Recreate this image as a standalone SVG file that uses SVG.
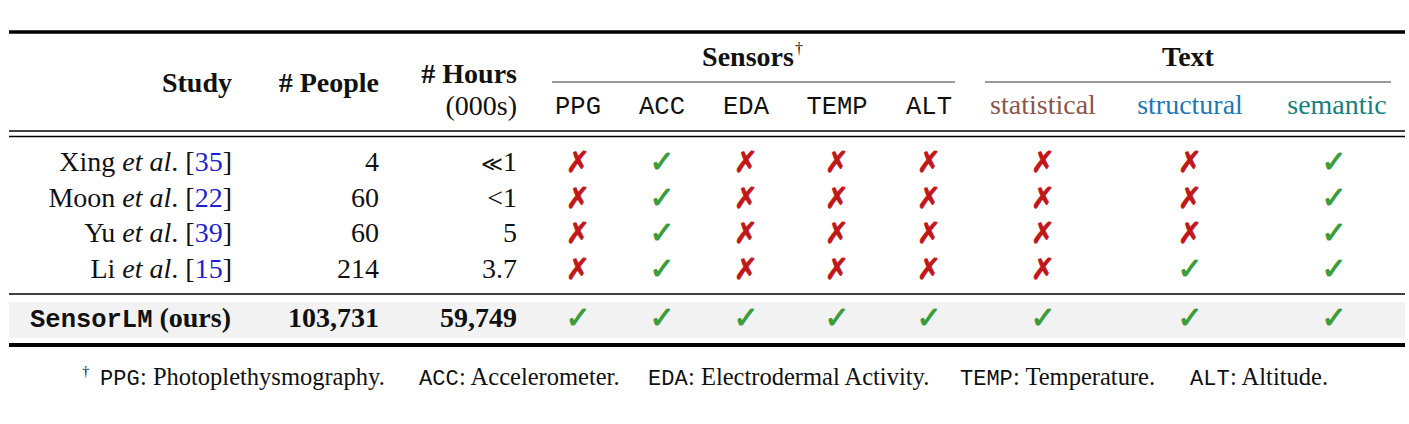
<svg xmlns="http://www.w3.org/2000/svg" width="1409" height="424" viewBox="0 0 1409 424">
<style>
.s{font-family:"Liberation Serif","DejaVu Serif",serif;font-size:28px;fill:#111}
.b{font-weight:bold}
.m{font-family:"Liberation Mono","DejaVu Sans Mono",monospace;font-size:25.5px;fill:#111}
.i{font-style:italic}
.c{fill:#1f1fd0}
.e{text-anchor:end}
.mid{text-anchor:middle}
.ll{font-family:"DejaVu Serif",serif;font-size:21px;font-weight:normal}
.ok{font-family:"DejaVu Sans",sans-serif;font-size:30px;fill:#3a9d3a;stroke:#3a9d3a;stroke-width:1;text-anchor:middle}
.no{font-family:"DejaVu Sans",sans-serif;font-size:29px;fill:#c01818;stroke:#c01818;stroke-width:0.8;text-anchor:middle}
.f{font-family:"Liberation Serif","DejaVu Serif",serif;font-size:24.5px;fill:#111}
.fm{font-family:"Liberation Mono","DejaVu Sans Mono",monospace;font-size:22px;fill:#111}
</style>
<rect width="1409" height="424" fill="#fff"/>
<g id="rules">
<rect x="9" y="302" width="1396" height="36" fill="#f2f2f2"/>
<line x1="9" y1="32" x2="1405" y2="32" stroke="#000" stroke-width="3.5"/>
<line x1="552" y1="82" x2="955" y2="82" stroke="#777" stroke-width="1.3"/>
<line x1="985" y1="82" x2="1391" y2="82" stroke="#777" stroke-width="1.3"/>
<line x1="9" y1="131" x2="1405" y2="131" stroke="#000" stroke-width="1.3"/>
<line x1="9" y1="136.5" x2="1405" y2="136.5" stroke="#000" stroke-width="1.3"/>
<line x1="9" y1="294" x2="1405" y2="294" stroke="#000" stroke-width="1.5"/>
<line x1="9" y1="345" x2="1405" y2="345" stroke="#000" stroke-width="4"/>
</g>
<g id="header">
<text class="s b e" x="232" y="92">Study</text>
<text class="s b e" x="379" y="92"># People</text>
<text class="s b e" x="517" y="83"># Hours</text>
<text class="s e" x="517" y="115">(000s)</text>
<text class="s b mid" x="748" y="66">Sensors</text>
<text class="s" x="795" y="54" style="font-size:16px">†</text>
<text class="s b mid" x="1188" y="66">Text</text>
<text class="m mid" x="578" y="114">PPG</text>
<text class="m mid" x="662" y="114">ACC</text>
<text class="m mid" x="746" y="114">EDA</text>
<text class="m mid" x="837" y="114">TEMP</text>
<text class="m mid" x="929" y="114">ALT</text>
<text class="s mid" x="1043" y="114" style="fill:#8c564b">statistical</text>
<text class="s mid" x="1190" y="114" style="fill:#1f77b4">structural</text>
<text class="s mid" x="1337" y="114" style="fill:#17807e">semantic</text>
</g>
<g id="row-xing">
<text class="s e" x="232" y="171">Xing <tspan class="i">et al</tspan>. [<tspan class="c">35</tspan>]</text>
<text class="s e" x="379" y="171">4</text>
<text class="s e" x="517" y="171"><tspan class="ll">≪</tspan>1</text>
<text class="no" x="578" y="172">✗</text><text class="ok" x="662" y="172">✓</text><text class="no" x="746" y="172">✗</text><text class="no" x="837" y="172">✗</text><text class="no" x="929" y="172">✗</text>
<text class="no" x="1043" y="172">✗</text><text class="no" x="1190" y="172">✗</text><text class="ok" x="1334" y="172">✓</text>
</g>
<g id="row-moon">
<text class="s e" x="232" y="207">Moon <tspan class="i">et al</tspan>. [<tspan class="c">22</tspan>]</text>
<text class="s e" x="379" y="207">60</text>
<text class="s e" x="517" y="207">&lt;1</text>
<text class="no" x="578" y="208">✗</text><text class="ok" x="662" y="208">✓</text><text class="no" x="746" y="208">✗</text><text class="no" x="837" y="208">✗</text><text class="no" x="929" y="208">✗</text>
<text class="no" x="1043" y="208">✗</text><text class="no" x="1190" y="208">✗</text><text class="ok" x="1334" y="208">✓</text>
</g>
<g id="row-yu">
<text class="s e" x="232" y="242">Yu <tspan class="i">et al</tspan>. [<tspan class="c">39</tspan>]</text>
<text class="s e" x="379" y="242">60</text>
<text class="s e" x="517" y="242">5</text>
<text class="no" x="578" y="243">✗</text><text class="ok" x="662" y="243">✓</text><text class="no" x="746" y="243">✗</text><text class="no" x="837" y="243">✗</text><text class="no" x="929" y="243">✗</text>
<text class="no" x="1043" y="243">✗</text><text class="no" x="1190" y="243">✗</text><text class="ok" x="1334" y="243">✓</text>
</g>
<g id="row-li">
<text class="s e" x="232" y="278">Li <tspan class="i">et al</tspan>. [<tspan class="c">15</tspan>]</text>
<text class="s e" x="379" y="278">214</text>
<text class="s e" x="517" y="278">3.7</text>
<text class="no" x="578" y="279">✗</text><text class="ok" x="662" y="279">✓</text><text class="no" x="746" y="279">✗</text><text class="no" x="837" y="279">✗</text><text class="no" x="929" y="279">✗</text>
<text class="no" x="1043" y="279">✗</text><text class="ok" x="1190" y="279">✓</text><text class="ok" x="1334" y="279">✓</text>
</g>
<g id="row-sensorlm">
<text class="s b e" x="231" y="327"><tspan class="m b">SensorLM</tspan> (ours)</text>
<text class="s b e" x="379" y="327">103,731</text>
<text class="s b e" x="517" y="327">59,749</text>
<text class="ok" x="578" y="328">✓</text><text class="ok" x="662" y="328">✓</text><text class="ok" x="746" y="328">✓</text><text class="ok" x="837" y="328">✓</text><text class="ok" x="929" y="328">✓</text>
<text class="ok" x="1043" y="328">✓</text><text class="ok" x="1190" y="328">✓</text><text class="ok" x="1334" y="328">✓</text>
</g>
<g id="footnote">
<text class="f" x="82" y="376" style="font-size:15px">†</text>
<text class="fm" x="100" y="385">PPG</text>
<text class="f" x="140" y="385">: Photoplethysmography.</text>
<text class="fm" x="419" y="385">ACC</text>
<text class="f" x="459" y="385">: Accelerometer.</text>
<text class="fm" x="648" y="385">EDA</text>
<text class="f" x="688" y="385">: Electrodermal Activity.</text>
<text class="fm" x="960" y="385">TEMP</text>
<text class="f" x="1013" y="385">: Temperature.</text>
<text class="fm" x="1190" y="385">ALT</text>
<text class="f" x="1230" y="385">: Altitude.</text>
</g>
</svg>
